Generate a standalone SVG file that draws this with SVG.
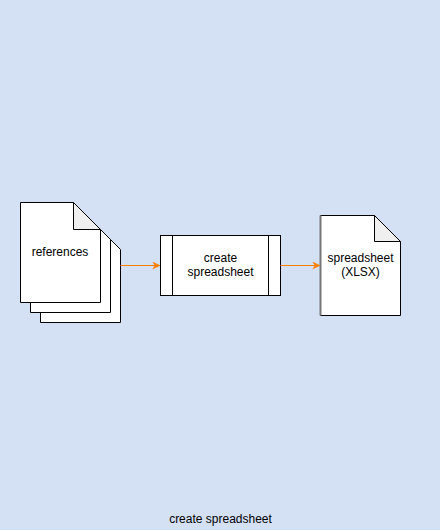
<svg xmlns="http://www.w3.org/2000/svg" width="441" height="531" viewBox="0 0 441 531">
<defs>
<marker id="arr" viewBox="0 0 10 10" refX="9" refY="5" markerWidth="8" markerHeight="8" markerUnits="userSpaceOnUse" orient="auto">
<path d="M0,0 L10,5 L0,10 L3,5 Z" fill="#FF8000"/>
</marker>
</defs>
<style>
.shape{fill:#ffffff;stroke:#000000;stroke-width:1}
.fold{fill:#efefef;stroke:#000000;stroke-width:1}
.lbl{font-family:"Liberation Sans",Arial,sans-serif;font-size:12px;fill:#000000;text-anchor:middle}
.conn{stroke:#FF8000;stroke-width:1;fill:none}
</style>
<rect x="0" y="0" width="440" height="530" fill="#d4e1f5"/>
<g id="references">
<path class="shape" d="M40.5,222.5 H93.5 L120.5,249.5 V322.5 H40.5 Z"/>
<path class="shape" d="M30.5,212.5 H83.5 L110.5,239.5 V312.5 H30.5 Z"/>
<path class="shape" d="M20.5,202.5 H73.5 L100.5,229.5 V302.5 H20.5 Z"/>
<path class="fold" d="M73.5,202.5 V229.5 H100.5 Z"/>
<text class="lbl" x="60" y="256">references</text>
</g>
<g id="create-spreadsheet">
<rect class="shape" x="160.5" y="235.5" width="120" height="60"/>
<line x1="172.5" y1="235.5" x2="172.5" y2="295.5" stroke="#000"/>
<line x1="268.5" y1="235.5" x2="268.5" y2="295.5" stroke="#000"/>
<text class="lbl" x="220.5" y="262">create</text>
<text class="lbl" x="220.5" y="276">spreadsheet</text>
</g>
<g id="spreadsheet-xlsx">
<path class="shape" d="M320.5,215.5 H374.5 L400.5,241.5 V315.5 H320.5 Z"/>
<path class="fold" d="M374.5,215.5 V241.5 H400.5 Z"/>
<line x1="320.5" y1="215.5" x2="320.5" y2="315.5" stroke="#777" stroke-width="2"/>
<text class="lbl" x="360.5" y="262">spreadsheet</text>
<text class="lbl" x="360.5" y="276">(XLSX)</text>
</g>
<g id="connectors">
<line class="conn" x1="120.5" y1="265.5" x2="159.5" y2="265.5" marker-end="url(#arr)"/>
<line class="conn" x1="280.5" y1="265.5" x2="319.5" y2="265.5" marker-end="url(#arr)"/>
</g>
<text class="lbl" x="220.5" y="523">create spreadsheet</text>
</svg>
